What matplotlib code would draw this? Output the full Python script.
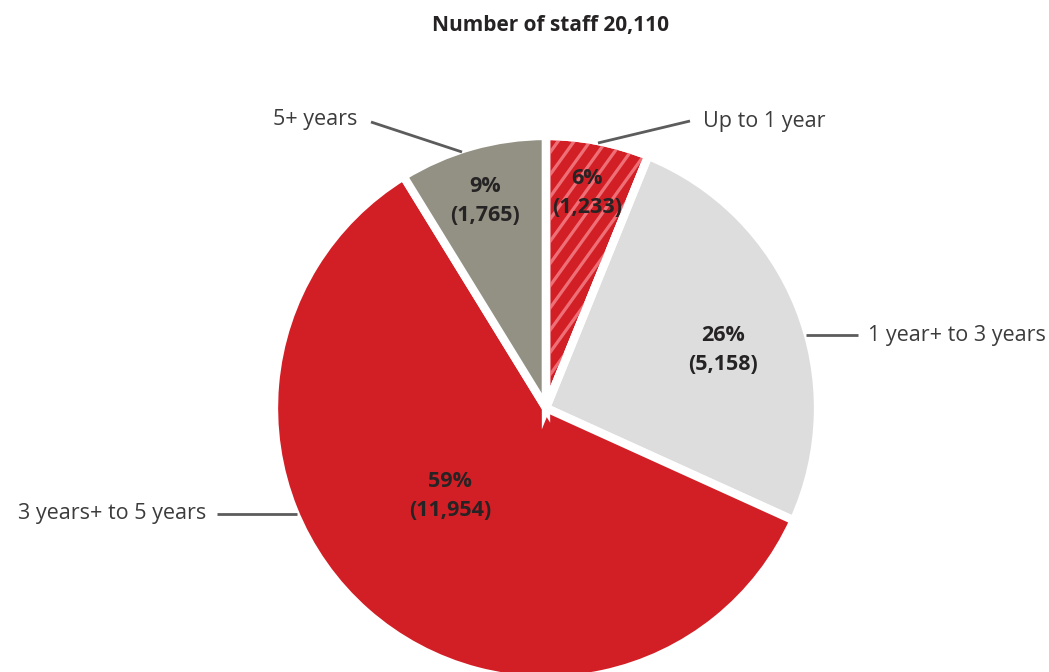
import matplotlib
matplotlib.use("Agg")
import matplotlib.pyplot as plt
import numpy as np
from matplotlib.patches import Wedge

categories = ["Up to 1 year", "1 year+ to 3 years", "3 years+ to 5 years", "5+ years"]
staff = [1233, 5158, 11954, 1765]
percent_labels = ["6%", "26%", "59%", "9%"]
total_staff = 20110

colors = ["#d21f26", "#dcdddc", "#d21f26", "#939183"]
stripe_color = "#ef6f76"
text_color = "#262324"
line_color = "#5c5c5c"

W, H = 1049, 672
fig = plt.figure(figsize=(W / 100, H / 100), dpi=100)
ax = fig.add_axes([0, 0, 1, 1])

cx, cy, R = 546, H - 408, 272

wedges, _ = ax.pie(
    staff,
    colors=colors,
    startangle=90,
    counterclock=False,
    center=(cx, cy),
    radius=R,
    explode=[0.022] * len(staff),
    wedgeprops=dict(edgecolor="white", linewidth=6),
    frame=True,
)
ax.set_xlim(0, W)
ax.set_ylim(0, H)
ax.set_aspect("equal")
ax.axis("off")

# diagonal stripes clipped to the first slice
w0 = wedges[0]
clip = Wedge(w0.center, w0.r, w0.theta1, w0.theta2, transform=ax.transData,
             facecolor="none", edgecolor="none")
ax.add_patch(clip)
run = 0.72  # horizontal run per unit rise of each stripe
for c in np.arange(-H, W, 16):
    ln, = ax.plot([c, c + run * H], [0, H], color=stripe_color, lw=2.3,
                  zorder=w0.get_zorder() + 0.1)
    ln.set_clip_path(clip)
edge = Wedge(w0.center, w0.r, w0.theta1, w0.theta2, facecolor="none",
             edgecolor="white", linewidth=6, zorder=w0.get_zorder() + 0.2)
ax.add_patch(edge)

font = "Open Sans"

def py(y):
    return H - y

# values inside slices
inner_pos = [(587, 193), (723, 350), (450, 496), (485, 201)]
for (x, y), pct, n in zip(inner_pos, percent_labels, staff):
    ax.text(x, py(y), f"{pct}\n({n:,})", ha="center", va="center", fontsize=15.5,
            fontweight="bold", color=text_color, family=font, linespacing=1.45, zorder=5)

# outer category labels with leader lines
outer = [
    dict(text=categories[0], xy=(703, 121), ha="left", line=[(598, 143), (690, 121)]),
    dict(text=categories[1], xy=(868, 335), ha="left", line=[(806, 335), (858, 335)]),
    dict(text=categories[2], xy=(206, 514), ha="right", line=[(217, 514), (297, 514)]),
    dict(text=categories[3], xy=(357, 120), ha="right", line=[(371, 122), (462, 152)]),
]
for o in outer:
    (x1, y1), (x2, y2) = o["line"]
    ax.plot([x1, x2], [py(y1), py(y2)], color=line_color, lw=2, solid_capstyle="butt", zorder=6)
    ax.text(o["xy"][0], py(o["xy"][1]), o["text"], ha=o["ha"], va="center", fontsize=15.5,
            fontweight="normal", color="#3c3c3c", family=font)

ax.text(551, py(26), f"Number of staff {total_staff:,}", ha="center", va="center",
        fontsize=15, fontweight="bold", color=text_color, family=font)

fig.savefig("out.png", dpi=100)
